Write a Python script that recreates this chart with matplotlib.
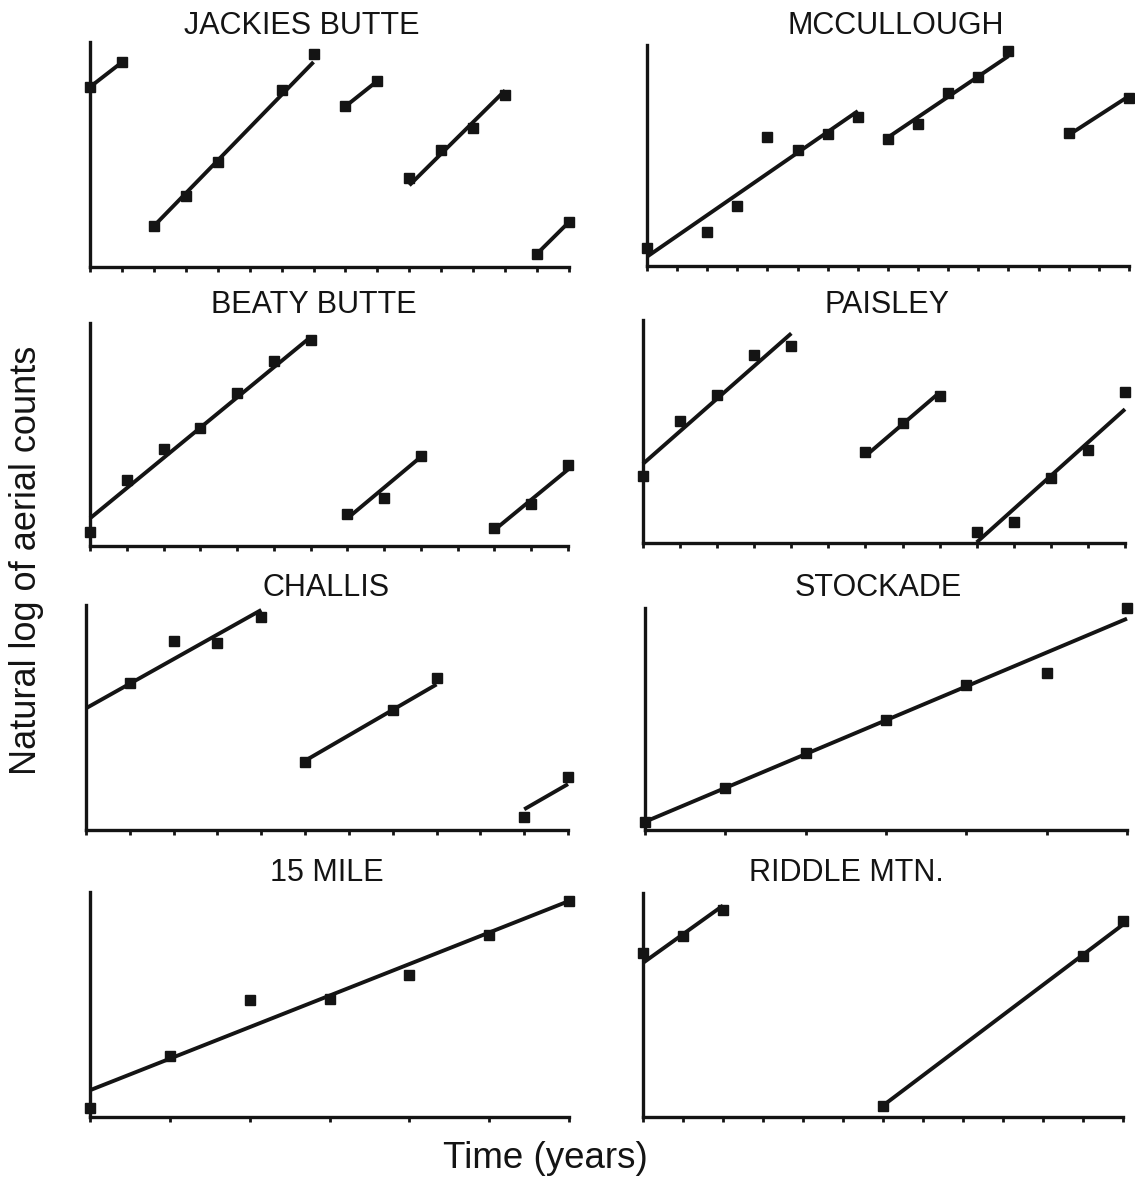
import matplotlib.pyplot as plt

plt.rcParams["font.family"] = ["Liberation Sans", "DejaVu Sans"]

INK = "#141414"

# Each herd: survey year index and ln(aerial count) on a shared 0-10 scale,
# split into runs between population crashes / re-starts.
JACKIES_X = [[0, 1], [2, 3, 4, 6, 7], [8, 9], [10, 11, 12, 13], [14, 15]]
JACKIES_Y = [[8.0, 9.1], [1.82, 3.14, 4.67, 7.85, 9.48], [7.14, 8.27],
             [3.97, 5.21, 6.19, 7.63], [0.59, 2.0]]
# regression line per run: start year, end year, fitted value at each end
JACKIES_FIT = [(0, 1, 8.0, 9.1), (2, 7, 1.82, 9.11), (8, 9, 7.14, 8.27),
               (10, 13, 3.63, 7.85), (14, 15, 0.59, 2.0)]

MCCULLOUGH_X = [[0, 2, 3, 4, 5, 6, 7], [8, 9, 10, 11, 12], [14, 16]]
MCCULLOUGH_Y = [[0.80, 1.55, 2.73, 5.85, 5.25, 5.97, 6.73],
                [5.73, 6.43, 7.81, 8.57, 9.74], [6.03, 7.59]]
MCCULLOUGH_FIT = [(0, 7, 0.42, 7.01), (8, 12, 5.82, 9.50), (14, 16, 5.93, 7.69)]

BEATY_X = [[0, 1, 2, 3, 4, 5, 6], [7, 8, 9], [11, 12, 13]]
BEATY_Y = [[0.64, 2.96, 4.37, 5.27, 6.84, 8.30, 9.25], [1.43, 2.16, 4.03],
           [0.79, 1.87, 3.63]]
BEATY_FIT = [(0, 6, 1.24, 9.37), (7, 9, 1.24, 4.0), (11, 13, 0.72, 3.43)]

PAISLEY_X = [[0, 1, 2, 3, 4], [6, 7, 8], [9, 10, 11, 12, 13]]
PAISLEY_Y = [[2.99, 5.48, 6.64, 8.43, 8.84], [4.07, 5.37, 6.57],
             [0.48, 0.93, 2.91, 4.18, 6.75]]
PAISLEY_FIT = [(0, 4, 3.55, 9.40), (6, 8, 3.9, 6.75), (9, 13, 0.03, 6.0)]

CHALLIS_X = [[1, 2, 3, 4], [5, 7, 8], [10, 11]]
CHALLIS_Y = [[6.52, 8.41, 8.30, 9.45], [3.04, 5.33, 6.74], [0.56, 2.34]]
CHALLIS_FIT = [(0, 4, 5.41, 9.78), (5, 8, 3.08, 6.47), (10, 11, 0.92, 2.04)]

STOCKADE_X = [[0, 1, 2, 3, 4, 5, 6]]
STOCKADE_Y = [[0.37, 1.87, 3.49, 4.95, 6.52, 7.09, 10.0]]
STOCKADE_FIT = [(0, 6, 0.37, 9.52)]

MILE15_X = [[0, 1, 2, 3, 4, 5, 6]]
MILE15_Y = [[0.40, 2.71, 5.21, 5.26, 6.30, 8.10, 9.60]]
MILE15_FIT = [(0, 6, 1.19, 9.60)]

RIDDLE_X = [[0, 1, 2], [6, 11, 12]]
RIDDLE_Y = [[7.32, 8.07, 9.22], [0.51, 7.20, 8.73]]
RIDDLE_FIT = [(0, 2, 6.88, 9.44), (6, 12, 0.51, 8.59)]

FIG_W, FIG_H = 1135, 1178

# name, x, y, fit, number of year ticks, frame (left, right, top, bottom px), title centre (px)
PANELS = [
    ("JACKIES BUTTE", JACKIES_X, JACKIES_Y, JACKIES_FIT, 16, (90, 569, 42, 267), (302, 26)),
    ("MCCULLOUGH", MCCULLOUGH_X, MCCULLOUGH_Y, MCCULLOUGH_FIT, 17, (647, 1129, 45, 266), (896, 26)),
    ("BEATY BUTTE", BEATY_X, BEATY_Y, BEATY_FIT, 14, (90, 568, 323, 546), (314, 305)),
    ("PAISLEY", PAISLEY_X, PAISLEY_Y, PAISLEY_FIT, 14, (643, 1125, 320, 543), (887, 305)),
    ("CHALLIS", CHALLIS_X, CHALLIS_Y, CHALLIS_FIT, 12, (86, 568, 605, 830), (326, 588)),
    ("STOCKADE", STOCKADE_X, STOCKADE_Y, STOCKADE_FIT, 7, (645, 1127, 608, 830), (878, 588)),
    ("15 MILE", MILE15_X, MILE15_Y, MILE15_FIT, 7, (90, 569, 892, 1117), (327, 873)),
    ("RIDDLE MTN.", RIDDLE_X, RIDDLE_Y, RIDDLE_FIT, 13, (643, 1123, 893, 1117), (846, 873)),
]


def px_rect(frame):
    left, right, top, bottom = frame
    return [left / FIG_W, 1 - bottom / FIG_H, (right - left) / FIG_W, (bottom - top) / FIG_H]


def draw_panel(ax, xs, ys, fits, n_years):
    for x0, x1, y0, y1 in fits:
        ax.plot([x0, x1], [y0, y1], color=INK, lw=2.8, solid_capstyle="butt",
                clip_on=False, zorder=2)
    for x, y in zip(xs, ys):
        ax.plot(x, y, "s", ms=6.5, color=INK, mec=INK, clip_on=False, zorder=3)

    ax.set_xlim(0, n_years - 1)
    ax.set_ylim(0, 10)
    ax.set_xticks(range(n_years))
    ax.set_xticklabels([])
    ax.set_yticks([])
    for side in ("top", "right"):
        ax.spines[side].set_visible(False)
    for side in ("left", "bottom"):
        ax.spines[side].set_linewidth(2.4)
        ax.spines[side].set_color(INK)
    ax.tick_params(axis="x", direction="out", length=3.5, width=2, color=INK)


fig = plt.figure(figsize=(FIG_W / 100, FIG_H / 100), dpi=100)
fig.patch.set_facecolor("white")

for name, xs, ys, fits, n_years, frame, (tx, ty) in PANELS:
    ax = fig.add_axes(px_rect(frame))
    ax.patch.set_alpha(0)
    draw_panel(ax, xs, ys, fits, n_years)
    fig.text(tx / FIG_W, 1 - ty / FIG_H, name, ha="center", va="center",
             fontsize=22, color=INK)

fig.text(545 / FIG_W, 1 - 1158 / FIG_H, "Time (years)", ha="center", va="center",
         fontsize=26.5, color=INK)
fig.text(27 / FIG_W, 1 - 560 / FIG_H, "Natural log of aerial counts", ha="center",
         va="center", rotation=90, fontsize=26, color=INK)

fig.savefig("out.png", dpi=100, facecolor="white")
